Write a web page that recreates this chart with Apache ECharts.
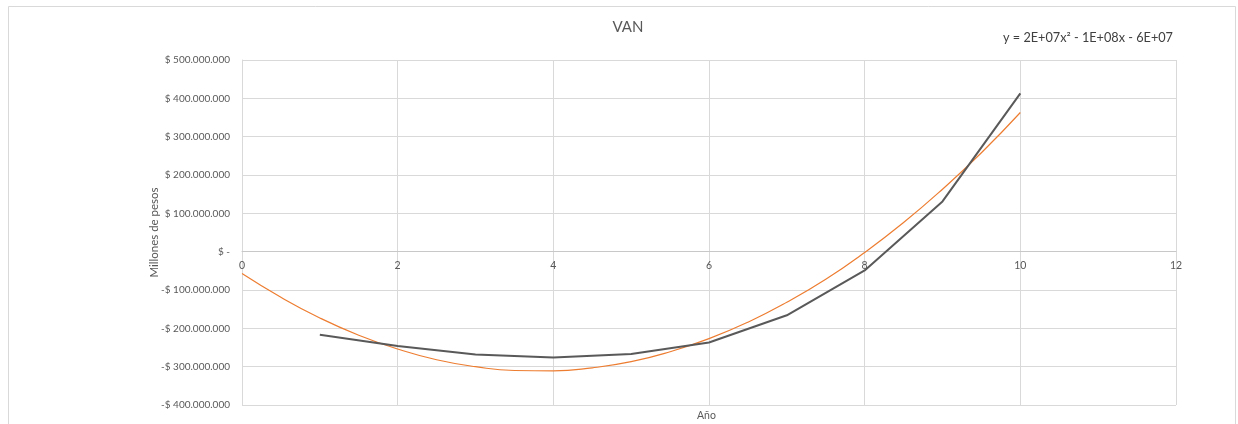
<!DOCTYPE html>
<html>
<head>
<meta charset="utf-8">
<script src="https://cdn.jsdelivr.net/npm/echarts@6/dist/echarts.min.js"></script>
<style>html,body{margin:0;padding:0;background:#fff}#c{width:1238px;height:424px}</style>
</head>
<body>
<div id="c"></div>
<script>
// Data (values in pesos)
const years = [1, 2, 3, 4, 5, 6, 7, 8, 9, 10];
const van = [-217e6, -246e6, -268e6, -276e6, -267e6, -237e6, -166e6, -49e6, 131e6, 413e6];
// Polynomial trendline
const trendX = [0, 0.5, 1, 1.5, 2, 2.5, 3, 3.5, 4, 4.5, 5, 5.5, 6, 6.5, 7, 7.5, 8, 8.5, 9, 9.5, 10];
const trendY = [-57e6, -119e6, -173e6, -218e6, -254e6, -282e6, -300e6, -310e6, -311e6, -303e6, -287e6, -261e6, -227e6, -184e6, -132e6, -72e6, -2e6, 76e6, 163e6, 258e6, 363e6];
const titleText = 'VAN';
const equationText = 'y = 2E+07x² - 1E+08x - 6E+07';
const xName = 'Año';
const yName = 'Millones de pesos';

function fmtMoney(v) {
  if (v === 0) return '$ -';
  const s = Math.abs(v).toFixed(0).replace(/\B(?=(\d{3})+(?!\d))/g, '.');
  return (v < 0 ? '-$ ' : '$ ') + s;
}

const font = 'Lato, "Open Sans", sans-serif';
const chart = echarts.init(document.getElementById('c'));
chart.setOption({
  animation: false,
  backgroundColor: '#fff',
  textStyle: { fontFamily: font },
  title: {
    text: titleText, left: 623, top: 15, textAlign: 'center',
    textStyle: { fontSize: 15, fontWeight: 'normal', color: '#595959', fontFamily: font }
  },
  graphic: [
    { type: 'rect', shape: { x: 8.5, y: 6.5, width: 1227, height: 430 }, style: { fill: 'none', stroke: '#d9d9d9', lineWidth: 1 }, silent: true },
    { type: 'text', left: 1003, top: 31, style: { text: equationText, fontSize: 12.7, fill: '#404040', fontFamily: font } },
    { type: 'text', left: 697, top: 410, style: { text: xName, fontSize: 10.5, fill: '#595959', fontFamily: font } }
  ],
  grid: { left: 242, right: 62, top: 60, bottom: 19, containLabel: false },
  xAxis: {
    type: 'value', min: 0, max: 12, interval: 2,
    offset: -153.33,
    axisLine: { onZero: false, lineStyle: { color: '#c8c8c8', width: 1 } },
    axisTick: { show: false },
    axisLabel: { color: '#595959', fontSize: 10.5, margin: 8, fontFamily: font },
    splitLine: { show: true, lineStyle: { color: '#d9d9d9', width: 1 } }
  },
  yAxis: {
    type: 'value', min: -400e6, max: 500e6, interval: 100e6,
    name: yName, nameLocation: 'middle', nameGap: 82, nameRotate: 90,
    nameMoveOverlap: false,
    nameTextStyle: { color: '#595959', fontSize: 11.5, fontFamily: font },
    axisLine: { show: true, onZero: false, lineStyle: { color: '#d9d9d9' } },
    axisTick: { show: false },
    axisLabel: { color: '#595959', fontSize: 10, margin: 12, formatter: fmtMoney, fontFamily: font },
    splitLine: { show: true, lineStyle: { color: '#d9d9d9', width: 1 } }
  },
  series: [
    {
      type: 'line', data: trendX.map((x, i) => [x, trendY[i]]), smooth: true,
      showSymbol: false, lineStyle: { color: '#ed7d31', width: 1.2 }, z: 2
    },
    {
      type: 'line', data: years.map((x, i) => [x, van[i]]),
      showSymbol: false, lineStyle: { color: '#595959', width: 2 }, z: 3
    }
  ]
});
</script>
</body>
</html>
